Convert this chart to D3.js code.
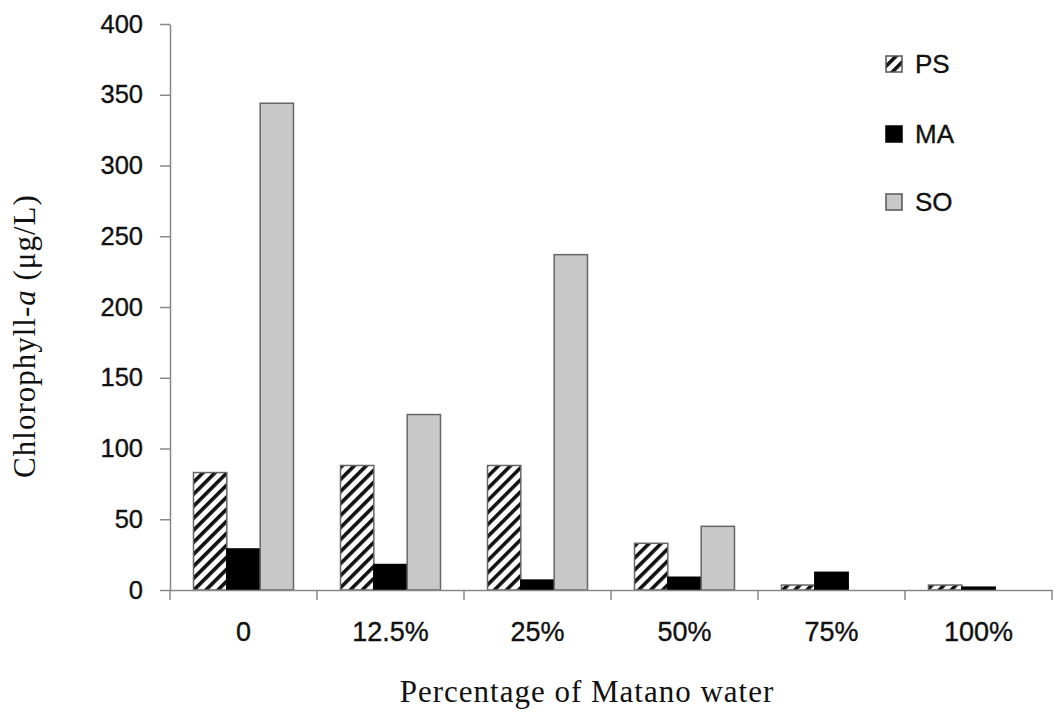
<!DOCTYPE html>
<html><head><meta charset="utf-8">
<script src="https://cdn.jsdelivr.net/npm/d3@7"></script>
<style>body{margin:0;background:#fff}</style>
</head><body>
<svg id="c" width="1054" height="713"></svg>
<script>
const categories = ["0","12.5%","25%","50%","75%","100%"];
const seriesNames = ["PS","MA","SO"];
const PS = [83, 88, 88, 33, 3.5, 3.5];
const MA = [29, 18, 7, 9, 12.5, 2];
const SO = [344, 124, 237, 45, 0, 0];
const yTicks = [0,50,100,150,200,250,300,350,400];

const svg = d3.select("#c");
const m = {l:170, r:1052, t:24, b:590};
const x = d3.scaleBand().domain(categories).range([m.l, m.r]).paddingInner(0).paddingOuter(0);
const xs = d3.scaleBand().domain(seriesNames).range([0, x.bandwidth()]).paddingInner(0).paddingOuter(0.705);
const y = d3.scaleLinear().domain([0,400]).range([m.b, m.t]);

const defs = svg.append("defs");
const pat = defs.append("pattern").attr("id","hatch").attr("patternUnits","userSpaceOnUse")
  .attr("width",8.5).attr("height",8.5).attr("patternTransform","rotate(45)");
pat.append("rect").attr("width",8.5).attr("height",8.5).attr("fill","#fff");
pat.append("rect").attr("x",0).attr("width",3.6).attr("height",8.5).attr("fill","#111");

const fills = {PS:"url(#hatch)", MA:"#000", SO:"#c8c8c8"};
const data = {PS, MA, SO};
const sansFont = "Liberation Sans, Arial, sans-serif";
const serifFont = "Liberation Serif, Times New Roman, serif";

const g = svg.append("g");
seriesNames.forEach(s => {
  g.selectAll(null).data(categories.map((c,i)=>({c, v:data[s][i]}))).enter()
   .filter(d => d.v > 0)
   .append("rect")
   .attr("x", d => x(d.c) + xs(s))
   .attr("width", xs.bandwidth())
   .attr("y", d => y(d.v))
   .attr("height", d => y(0) - y(d.v))
   .attr("fill", fills[s])
   .attr("stroke", s==="MA" ? "#000" : "#666")
   .attr("stroke-width", 1.5);
});

function styleText(sel, fs){
  sel.attr("font-family", sansFont).attr("font-size", fs).attr("fill","#111")
     .attr("stroke","#111").attr("stroke-width",0.35);
}

// Y axis
const ya = svg.append("g").attr("transform",`translate(${m.l},0)`)
  .call(d3.axisLeft(y).tickValues(yTicks).tickSize(10).tickPadding(17).tickSizeOuter(0));
ya.attr("font-size", null).attr("font-family", null);
ya.select(".domain").attr("stroke","#888").attr("stroke-width",1.5);
ya.selectAll(".tick line").attr("stroke","#888").attr("stroke-width",1.5);
styleText(ya.selectAll("text"), 25.5);

// X axis
const xa = svg.append("g").attr("transform",`translate(0,${m.b})`)
  .call(d3.axisBottom(x).tickSize(0).tickPadding(32));
xa.attr("font-size", null).attr("font-family", null);
xa.select(".domain").attr("stroke","#888").attr("stroke-width",1.5);
styleText(xa.selectAll("text"), 27);
const bounds = categories.map(c => x(c) + x.bandwidth()).concat([m.l]);
xa.selectAll(".bound").data(bounds).enter().append("line")
  .attr("x1",d=>d).attr("x2",d=>d).attr("y1",0).attr("y2",10)
  .attr("stroke","#888").attr("stroke-width",1.5);

// Axis titles
svg.append("text").attr("x", 587).attr("y", 702).attr("text-anchor","middle")
  .attr("font-family", serifFont).attr("font-size",31).attr("letter-spacing",1).attr("fill","#111")
  .text("Percentage of Matano water");
const yt = svg.append("text").attr("transform","translate(35,336) rotate(-90)").attr("text-anchor","middle")
  .attr("font-family", serifFont).attr("font-size",31).attr("letter-spacing",1).attr("fill","#111");
yt.append("tspan").text("Chlorophyll-");
yt.append("tspan").attr("font-style","italic").text("a");
yt.append("tspan").text(" (μg/L)");

// Legend
const leg = svg.append("g");
const ly = [64, 134, 202];
seriesNames.forEach((s,i) => {
  leg.append("rect").attr("x",886).attr("y",ly[i]-8).attr("width",16).attr("height",16)
    .attr("fill", fills[s]).attr("stroke", s==="MA"?"#000":"#555").attr("stroke-width",1.5);
  const t = leg.append("text").attr("x",915).attr("y",ly[i]+9).text(s);
  styleText(t, 26);
});
</script>
</body></html>
